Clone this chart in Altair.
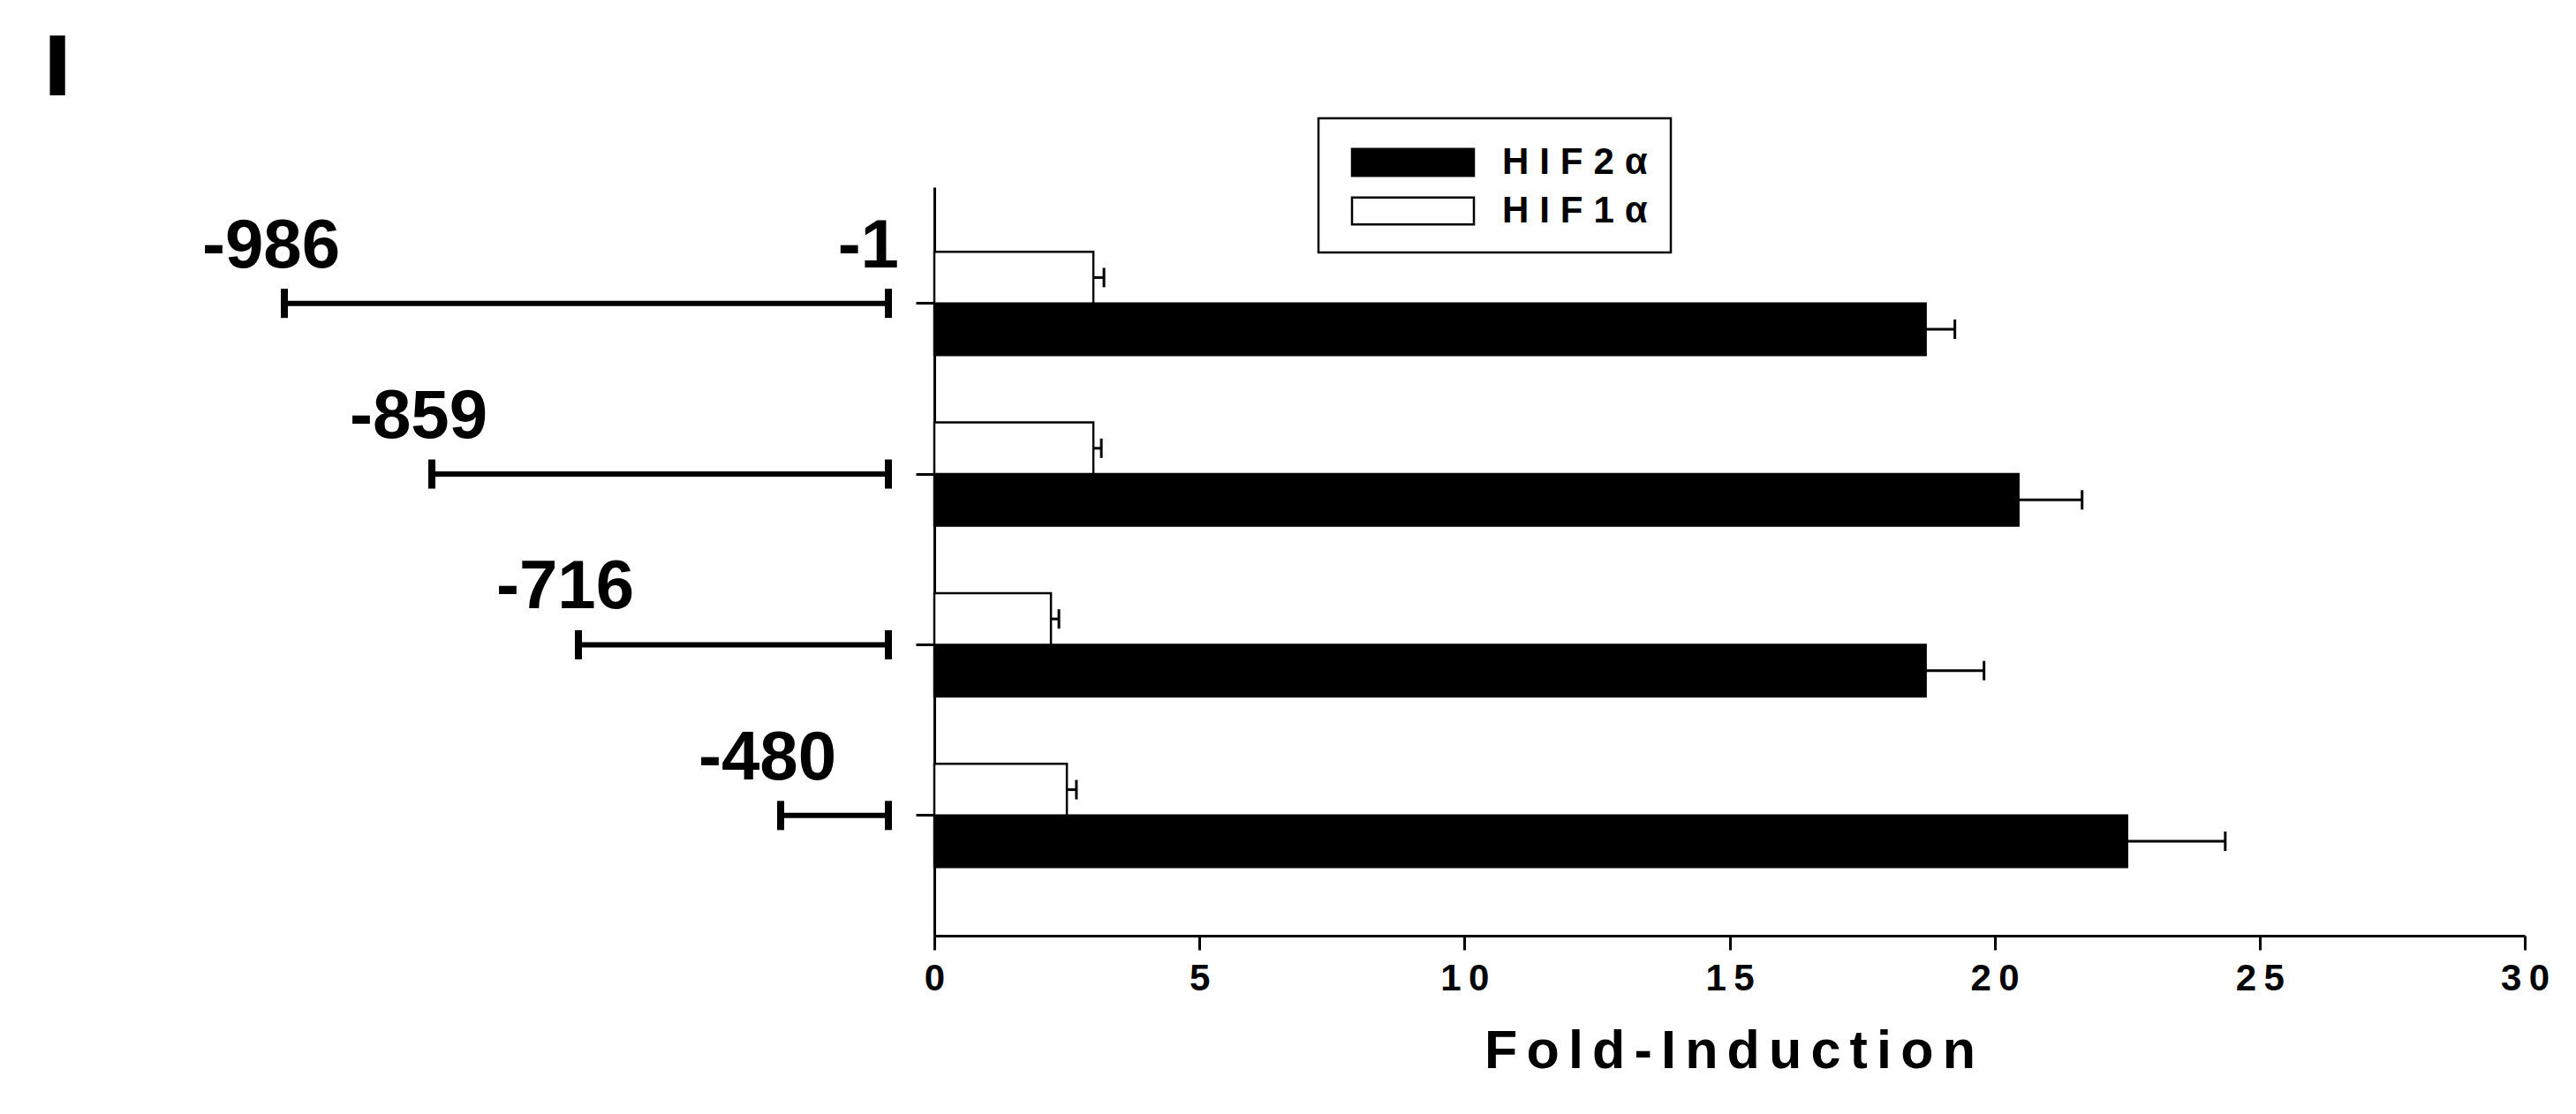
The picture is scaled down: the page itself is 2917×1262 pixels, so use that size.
import altair as alt
import pandas as pd

FONT = "Liberation Sans"

# ---- data ----
constructs = ["-986/-1", "-859/-1", "-716/-1", "-480/-1"]
start_bp = [-986, -859, -716, -480]
end_bp = [-1, -1, -1, -1]
start_labels = ["-986", "-859", "-716", "-480"]
end_label = "-1"

series = ["HIF2α", "HIF1α"]
hif2_mean = [18.7, 20.45, 18.7, 22.5]
hif2_err = [0.55, 1.2, 1.1, 1.85]
hif1_mean = [3.0, 3.0, 2.2, 2.5]
hif1_err = [0.2, 0.15, 0.15, 0.18]
x_ticks = [0, 5, 10, 15, 20, 25, 30]

# ---- tables ----
rows = []
for i, c in enumerate(constructs):
    rows.append({"construct": c, "series": series[0], "value": hif2_mean[i],
                 "upper": hif2_mean[i] + hif2_err[i]})
    rows.append({"construct": c, "series": series[1], "value": hif1_mean[i],
                 "upper": hif1_mean[i] + hif1_err[i]})
bars_df = pd.DataFrame(rows)

diag_df = pd.DataFrame({"construct": constructs, "start": start_bp, "end": end_bp,
                        "label": start_labels})
endlab_df = pd.DataFrame({"construct": [constructs[0]], "end": [end_bp[0]],
                          "label": [end_label]})

PLOT_H = 848
y_scale = alt.Scale(domain=constructs, paddingInner=0.395, paddingOuter=0.39, align=0.485)
diag_scale = alt.Scale(domain=[-986, -859, -716, -480, -1],
                       range=[314, 481, 647, 876, 998], zero=False, nice=False)

THIN = "\u2009"
HAIR = "\u200a"

# ---- left panel: promoter constructs ----
y_left = alt.Y("construct:N", scale=y_scale, axis=None)
lines = alt.Chart(diag_df).mark_rule(color="black", strokeWidth=6).encode(
    x=alt.X("start:Q", scale=diag_scale, axis=None), x2="end:Q", y=y_left)
caps = alt.Chart(diag_df).transform_fold(["start", "end"], as_=["k", "pos"]).mark_tick(
    color="black", opacity=1, thickness=8, size=33).encode(
    x=alt.X("pos:Q", scale=diag_scale, axis=None), y=y_left)
labels = alt.Chart(diag_df).mark_text(
    font=FONT, fontSize=78, fontWeight="bold", align="center", baseline="alphabetic",
    dy=-41, dx=-15, color="black").encode(
    x=alt.X("start:Q", scale=diag_scale, axis=None), y=y_left, text="label:N")
endlab = alt.Chart(endlab_df).mark_text(
    font=FONT, fontSize=78, fontWeight="bold", align="right", baseline="alphabetic",
    dy=-41, dx=12, color="black").encode(
    x=alt.X("end:Q", scale=diag_scale, axis=None), y=y_left, text="label:N")
left = alt.layer(lines, caps, labels, endlab).properties(width=1000, height=PLOT_H)

# ---- right panel: bars ----
x_enc = alt.X("value:Q", scale=alt.Scale(domain=[0, 30], nice=False, zero=True),
              axis=alt.Axis(values=x_ticks, format="d", tickSize=16, tickWidth=3,
                            tickColor="black", domainWidth=3, domainColor="black",
                            grid=False, labelFont=FONT, labelFontSize=42,
                            labelFontWeight="bold", labelColor="black", labelPadding=12,
                            labelFlush=False,
                            labelExpr="join(split(datum.label, ''), '" + THIN + "')",
                            title=(HAIR + HAIR).join("Fold-Induction"), titleFont=FONT,
                            titleFontSize=61, titleFontWeight="bold", titleColor="black",
                            titlePadding=32))
y_enc = alt.Y("construct:N", scale=y_scale,
              axis=alt.Axis(labels=False, title=None, tickSize=21, tickWidth=3,
                            tickColor="black", domainWidth=3, domainColor="black",
                            grid=False))
yoff = alt.YOffset("series:N", scale=alt.Scale(domain=["HIF1α", "HIF2α"]))

bars = alt.Chart(bars_df).mark_bar(stroke="black", strokeWidth=2.5).encode(
    x=x_enc, y=y_enc, yOffset=yoff,
    color=alt.Color("series:N", scale=alt.Scale(domain=series, range=["black", "white"]),
                    legend=alt.Legend(title=None, orient="none", legendX=1485, legendY=-78,
                                      direction="vertical",
                                      symbolType="M-3.067,-0.676H3.067V0.676H-3.067Z",
                                      symbolSize=2025, symbolOffset=57,
                                      symbolStrokeColor="black", symbolStrokeWidth=2.5,
                                      symbolOpacity=1,
                                      labelFont=FONT, labelFontSize=42,
                                      labelFontWeight="bold", labelColor="black",
                                      labelOffset=77, labelLimit=500, rowPadding=10,
                                      labelExpr="join(split(datum.label, ''), '" + THIN + HAIR + "')",
                                      padding=26, strokeColor="black")))
err = alt.Chart(bars_df).mark_rule(color="black", strokeWidth=3).encode(
    x="value:Q", x2="upper:Q", y="construct:N", yOffset=yoff)
errcap = alt.Chart(bars_df).mark_tick(color="black", opacity=1, thickness=3, size=22).encode(
    x="upper:Q", y="construct:N", yOffset=yoff)
right = alt.layer(bars, err, errcap).properties(width=1801, height=PLOT_H)

chart = alt.hconcat(left, right, spacing=50, bounds="flush").properties(
    title=alt.TitleParams("I", anchor="start", fontSize=92, fontWeight="bold",
                          font="DejaVu Sans", color="black", dx=40, offset=6),
    padding={"left": 0, "top": 25, "right": 0, "bottom": 0},
).configure_view(strokeWidth=0)

try:
    c2 = chart.configure_legend(strokeWidth=2.5)
    c2.to_dict()
    chart = c2
except Exception:
    pass

chart.save("out.html", embed_options={"renderer": "svg", "actions": False})
